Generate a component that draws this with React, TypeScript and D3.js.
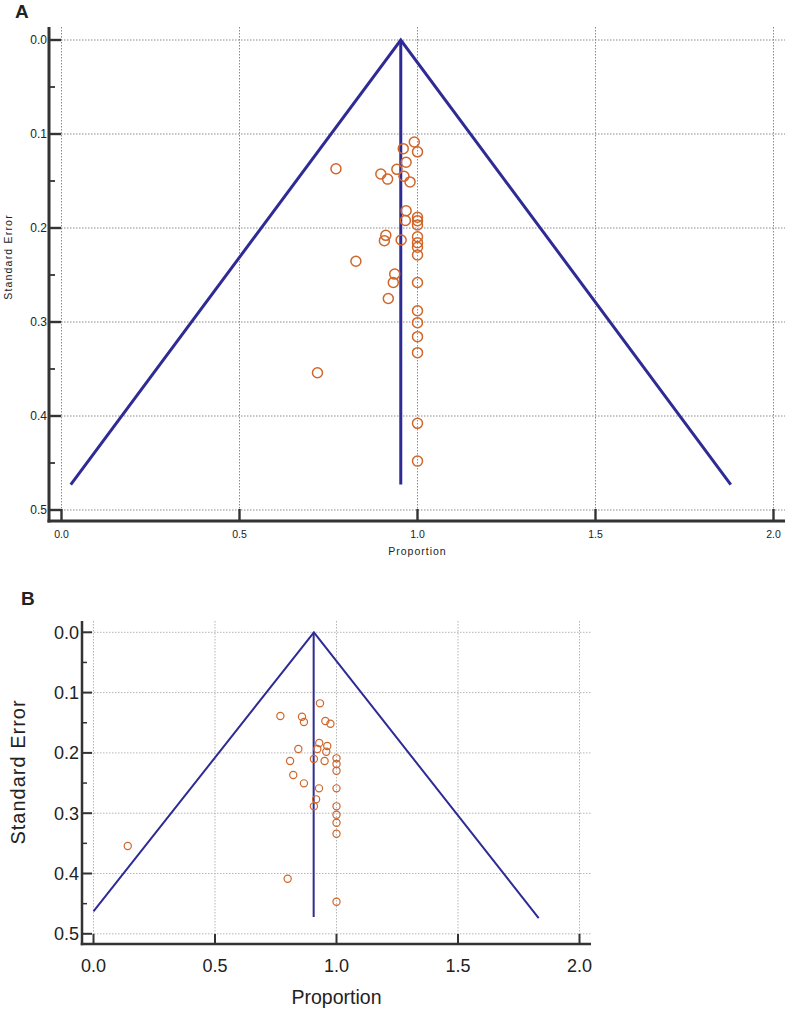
import React from "react";
import * as d3 from "d3";

// ---------- Data ----------
const xTicks = [0, 0.5, 1.0, 1.5, 2.0];
const yTicks = [0, 0.1, 0.2, 0.3, 0.4, 0.5];
const yMinorTicks = [0.05, 0.15, 0.25, 0.35, 0.45];

// Panel A: study proportions and standard errors
const propA = [0.991, 0.96, 1.0, 0.771, 0.968, 0.942, 0.897, 0.916, 0.962, 0.979,
  0.968, 0.966, 1.0, 1.0, 1.0, 0.911, 0.907, 0.954, 1.0, 1.0, 1.0, 1.0,
  0.827, 0.936, 0.932, 1.0, 0.918, 1.0, 1.0, 1.0, 1.0, 0.719, 1.0, 1.0];
const seA = [0.1085, 0.1156, 0.119, 0.137, 0.13, 0.1376, 0.1426, 0.148, 0.145, 0.151,
  0.1816, 0.192, 0.1886, 0.1922, 0.1968, 0.2078, 0.2135, 0.2128, 0.2093, 0.2156, 0.2205, 0.2287,
  0.2354, 0.249, 0.258, 0.258, 0.275, 0.288, 0.3007, 0.3156, 0.3326, 0.354, 0.4078, 0.448];
const funnelPropA = [0.026, 0.953, 1.88];
const funnelSeA = [0.473, 0, 0.473];
const pooledA = 0.953;
const pooledSeRangeA = [0, 0.473];

// Panel B
const propB = [0.932, 0.769, 0.858, 0.866, 0.954, 0.975, 0.929, 0.962, 0.843, 0.921,
  0.958, 0.809, 0.907, 0.951, 1.0, 1.0, 1.0, 0.822, 0.866, 0.928, 1.0, 0.916, 0.907,
  1.0, 1.0, 1.0, 1.0, 0.799, 1.0, 0.141];
const seB = [0.1178, 0.1388, 0.14, 0.1488, 0.147, 0.1516, 0.1836, 0.1886, 0.1935, 0.1935,
  0.198, 0.2134, 0.21, 0.2134, 0.209, 0.2184, 0.2295, 0.2367, 0.2505, 0.2588, 0.2588, 0.277, 0.2886,
  0.2886, 0.3025, 0.3158, 0.334, 0.4086, 0.4468, 0.3544];
const funnelPropB = [0.0, 0.907, 1.832];
const funnelSeB = [0.463, 0, 0.474];
const pooledB = 0.906;
const pooledSeRangeB = [0, 0.472];

// ---------- Panel ----------
type Cfg = {
  label: string; labelX: number; labelY: number; labelFont: number;
  xr: [number, number]; yr: [number, number];
  axL: number; axB: number; axT: number; axR: number;
  yTickFont: number; xTickFont: number; titleFont: number; yTitleFont: number; titleLS: number; yTitleLS: number;
  majLen: number; minLen: number; axisW: number;
  r: number; mw: number; lw: number;
  ytlX: number; xtlY: number; yTitleX: number; yTitleY: number; xTitleY: number;
  gridColor: string;
  prop: number[]; se: number[]; fp: number[]; fs: number[]; pooled: number; pr: number[];
};

const LINE = "#2f2b95";
const DOT = "#d0662a";

function Panel({ c }: { c: Cfg }) {
  const x = d3.scaleLinear().domain([0, 2]).range(c.xr);
  const y = d3.scaleLinear().domain([0, 0.5]).range(c.yr);
  const funnel = d3.line<number>().x((d) => x(c.fp[d])).y((d) => y(c.fs[d]));
  const idx = d3.range(c.fp.length);
  const xMid = x(1);
  return (
    <g>
      <text x={c.labelX} y={c.labelY} fontSize={c.labelFont} fontWeight="bold" fill="#222">{c.label}</text>
      {/* grid */}
      {xTicks.map((t) => (
        <line key={"gx" + t} x1={x(t)} x2={x(t)} y1={c.axT} y2={c.axB} stroke={c.gridColor} strokeWidth={1} strokeDasharray="1.5,1.5" />
      ))}
      {yTicks.map((t) => (
        <line key={"gy" + t} x1={c.axL} x2={c.axR} y1={y(t)} y2={y(t)} stroke={c.gridColor} strokeWidth={1} strokeDasharray="1.5,1.5" />
      ))}
      {/* funnel */}
      <path d={funnel(idx) || ""} fill="none" stroke={LINE} strokeWidth={c.lw} />
      <line x1={x(c.pooled)} x2={x(c.pooled)} y1={y(c.pr[0])} y2={y(c.pr[1])} stroke={LINE} strokeWidth={c.lw} />
      {/* points */}
      {c.prop.map((p, i) => (
        <circle key={"p" + i} cx={x(p)} cy={y(c.se[i])} r={c.r} fill="none" stroke={DOT} strokeWidth={c.mw} />
      ))}
      {/* axes */}
      <line x1={c.axL} x2={c.axL} y1={c.axT} y2={c.axB + c.axisW / 2} stroke="#333" strokeWidth={c.axisW} />
      <line x1={c.axL - c.axisW / 2} x2={c.axR} y1={c.axB} y2={c.axB} stroke="#333" strokeWidth={c.axisW} />
      {yTicks.map((t) => (
        <g key={"yt" + t}>
          <line x1={c.axL} x2={c.axL + c.majLen} y1={y(t)} y2={y(t)} stroke="#333" strokeWidth={c.axisW * 0.8} />
          <text x={c.ytlX} y={y(t)} dy="0.35em" textAnchor="end" fontSize={c.yTickFont} fill="#222">{d3.format(".1f")(t)}</text>
        </g>
      ))}
      {yMinorTicks.map((t) => (
        <line key={"ym" + t} x1={c.axL} x2={c.axL + c.minLen} y1={y(t)} y2={y(t)} stroke="#333" strokeWidth={c.axisW * 0.6} />
      ))}
      {xTicks.map((t) => (
        <g key={"xt" + t}>
          <line x1={x(t)} x2={x(t)} y1={c.axB} y2={c.axB - c.majLen} stroke="#333" strokeWidth={c.axisW * 0.8} />
          <text x={x(t)} y={c.xtlY} dy="0.35em" textAnchor="middle" fontSize={c.xTickFont} fill="#222">{d3.format(".1f")(t)}</text>
        </g>
      ))}
      <text x={xMid} y={c.xTitleY} dy="0.35em" textAnchor="middle" fontSize={c.titleFont} letterSpacing={c.titleLS} fill="#222">Proportion</text>
      <text transform={`translate(${c.yTitleX},${c.yTitleY}) rotate(-90)`} dy="0.35em" textAnchor="middle" fontSize={c.yTitleFont} letterSpacing={c.yTitleLS} fill="#222">Standard Error</text>
    </g>
  );
}

const cfgA: Cfg = {
  label: "A", labelX: 15, labelY: 18, labelFont: 19,
  xr: [61.5, 773.5], yr: [40, 510],
  axL: 49, axB: 521, axT: 27, axR: 785,
  yTickFont: 12, xTickFont: 10.5, titleFont: 10.5, yTitleFont: 10.5, titleLS: 1, yTitleLS: 1.2,
  majLen: 12, minLen: 6, axisW: 3,
  r: 5, mw: 1.5, lw: 3,
  ytlX: 47, xtlY: 534, yTitleX: 8, yTitleY: 257, xTitleY: 551,
  gridColor: "#8a8a8a",
  prop: propA, se: seA, fp: funnelPropA, fs: funnelSeA, pooled: pooledA, pr: pooledSeRangeA,
};

const cfgB: Cfg = {
  label: "B", labelX: 21, labelY: 605, labelFont: 19,
  xr: [93.5, 579.5], yr: [632.3, 933.8],
  axL: 82, axB: 944, axT: 621, axR: 591,
  yTickFont: 18, xTickFont: 18, titleFont: 19.5, yTitleFont: 20, titleLS: 0, yTitleLS: 1,
  majLen: 10, minLen: 5, axisW: 2.5,
  r: 3.6, mw: 1.2, lw: 2,
  ytlX: 79, xtlY: 966, yTitleX: 18, yTitleY: 772, xTitleY: 997,
  gridColor: "#b5b5b5",
  prop: propB, se: seB, fp: funnelPropB, fs: funnelSeB, pooled: pooledB, pr: pooledSeRangeB,
};

export default function App() {
  return (
    <svg width={790} height={1009} style={{ position: "absolute", left: 0, top: 0, background: "#fff" }}
      fontFamily="'Liberation Sans', Arial, sans-serif">
      <rect width={790} height={1009} fill="#fff" />
      <Panel c={cfgA} />
      <Panel c={cfgB} />
    </svg>
  );
}
